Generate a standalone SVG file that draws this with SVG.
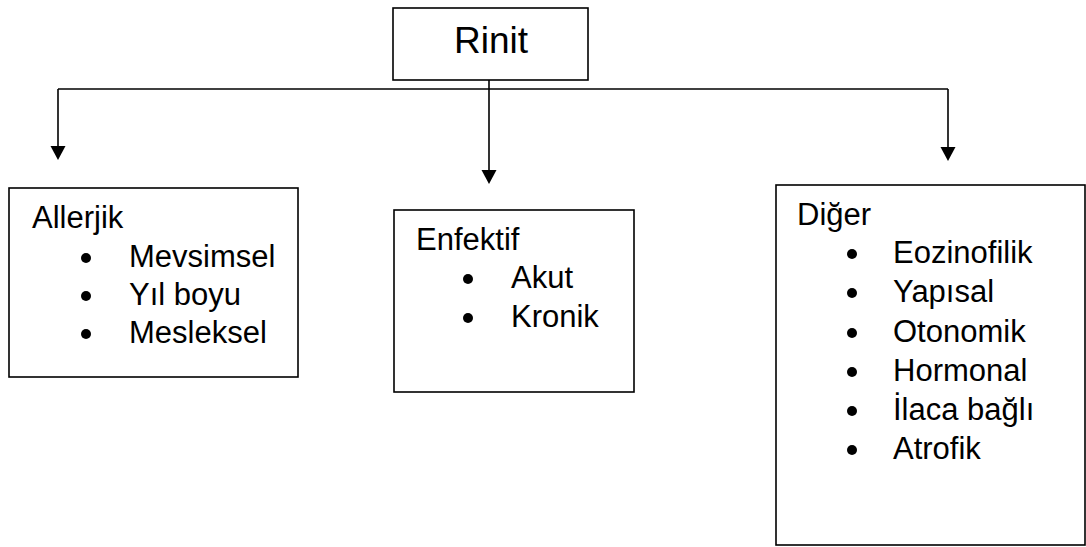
<svg xmlns="http://www.w3.org/2000/svg" width="1086" height="547" viewBox="0 0 1086 547">
<style>
.box{fill:#fff;stroke:#000;stroke-width:1.6}
.t{font-family:"Liberation Sans",Arial,sans-serif;font-size:31px;fill:#000}
.title{font-family:"Liberation Sans",Arial,sans-serif;font-size:37px;fill:#000}
.line{fill:none;stroke:#000;stroke-width:1.6}
.b{fill:#000}
</style>
<g id="connectors">
<line class="line" x1="489" y1="80" x2="489" y2="89"/>
<line class="line" x1="58" y1="89" x2="948" y2="89"/>
<line class="line" x1="58" y1="89" x2="58" y2="146"/>
<path d="M50.5,146 L65.5,146 L58,160 Z" class="b"/>
<line class="line" x1="489" y1="89" x2="489" y2="170"/>
<path d="M481.5,170 L496.5,170 L489,184 Z" class="b"/>
<line class="line" x1="948" y1="89" x2="948" y2="147"/>
<path d="M940.5,147 L955.5,147 L948,161 Z" class="b"/>
</g>
<g id="rinit">
<rect class="box" x="393" y="8" width="195" height="72"/>
<text class="title" x="491" y="53" text-anchor="middle">Rinit</text>
</g>
<g id="allerjik">
<rect class="box" x="9" y="188" width="289" height="189"/>
<text class="t" x="32" y="228">Allerjik</text>
<circle class="b" cx="86" cy="258" r="5"/>
<text class="t" x="129" y="267">Mevsimsel</text>
<circle class="b" cx="86" cy="296" r="5"/>
<text class="t" x="129" y="305">Yıl boyu</text>
<circle class="b" cx="86" cy="334" r="5"/>
<text class="t" x="129" y="343">Mesleksel</text>
</g>
<g id="enfektif">
<rect class="box" x="394" y="210" width="240" height="182"/>
<text class="t" x="416" y="250">Enfektif</text>
<circle class="b" cx="468" cy="279" r="5"/>
<text class="t" x="511" y="288">Akut</text>
<circle class="b" cx="468" cy="318" r="5"/>
<text class="t" x="511" y="327">Kronik</text>
</g>
<g id="diger">
<rect class="box" x="776" y="185" width="309" height="360"/>
<text class="t" x="797" y="225">Diğer</text>
<circle class="b" cx="852" cy="254" r="5"/>
<text class="t" x="893" y="263">Eozinofilik</text>
<circle class="b" cx="852" cy="293" r="5"/>
<text class="t" x="893" y="302">Yapısal</text>
<circle class="b" cx="852" cy="333" r="5"/>
<text class="t" x="893" y="342">Otonomik</text>
<circle class="b" cx="852" cy="372" r="5"/>
<text class="t" x="893" y="381">Hormonal</text>
<circle class="b" cx="852" cy="411" r="5"/>
<text class="t" x="893" y="420">İlaca bağlı</text>
<circle class="b" cx="852" cy="450" r="5"/>
<text class="t" x="893" y="459">Atrofik</text>
</g>
</svg>
